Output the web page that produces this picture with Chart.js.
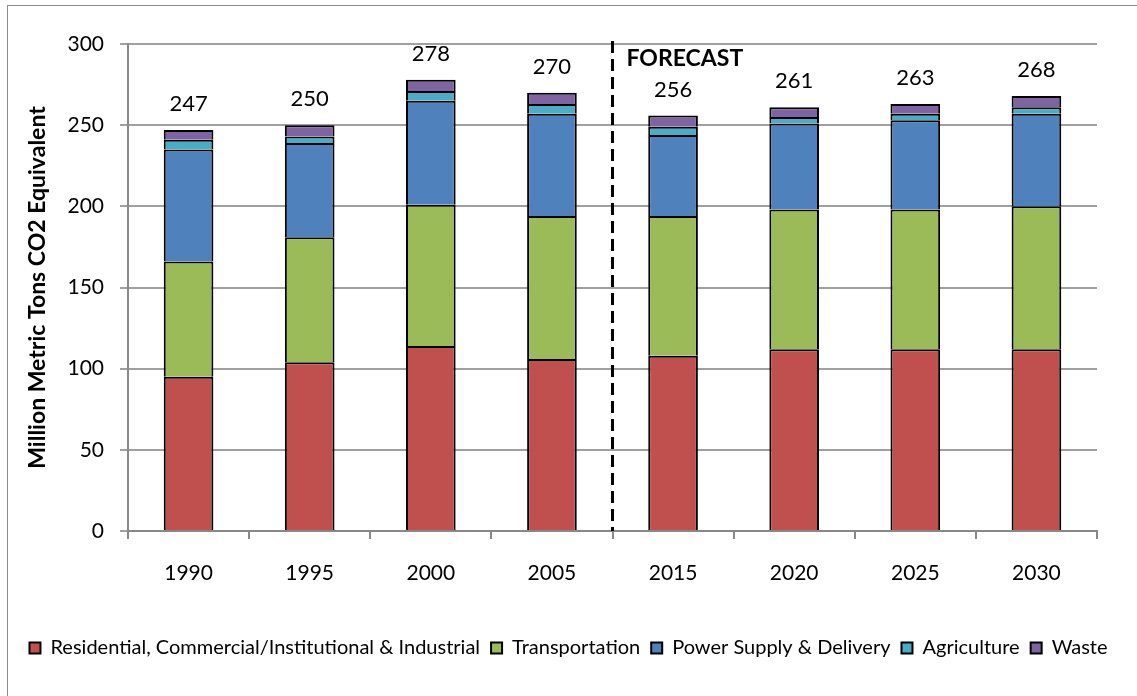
<!DOCTYPE html>
<html>
<head>
<meta charset="utf-8">
<script src="https://cdn.jsdelivr.net/npm/chart.js@4/dist/chart.umd.min.js"></script>
<style>
  html, body { margin: 0; padding: 0; background: #fff; }
  #wrap { width: 1137px; height: 696px; position: relative; }
</style>
</head>
<body>
<div id="wrap"><canvas id="c" width="1137" height="696"></canvas></div>
<script>
const categories = ['1990', '1995', '2000', '2005', '2015', '2020', '2025', '2030'];
const residential = [95, 104, 114, 106, 108, 112, 112, 112];
const transportation = [71, 77, 87, 88, 86, 86, 86, 88];
const powerSupply = [69, 58, 64, 63, 50, 53, 55, 57];
const agriculture = [6, 4, 6, 6, 5, 4, 4, 4];
const waste = [6, 7, 7, 7, 7, 6, 6, 7];
const totals = [247, 250, 278, 270, 256, 261, 263, 268];
const seriesNames = ['Residential, Commercial/Institutional & Industrial', 'Transportation', 'Power Supply & Delivery', 'Agriculture', 'Waste'];
const forecastStartIndex = 4;
const yTicks = [0, 50, 100, 150, 200, 250, 300];

const FONT = 'Lato, "Open Sans", sans-serif';

const decor = {
  id: 'decor',
  beforeDraw(chart) {
    const ctx = chart.ctx;
    ctx.save();
    ctx.fillStyle = '#fff';
    ctx.fillRect(0, 0, chart.width, chart.height);
    ctx.strokeStyle = '#8c8c8c';
    ctx.lineWidth = 1;
    ctx.strokeRect(7.5, 5.5, chart.width + 10, chart.height + 10);
    ctx.restore();
  },
  afterDatasetsDraw(chart) {
    const ctx = chart.ctx;
    const x = chart.scales.x, y = chart.scales.y;
    const area = chart.chartArea;
    ctx.save();
    ctx.fillStyle = '#000';
    ctx.font = '22px ' + FONT;
    ctx.textAlign = 'center';
    ctx.textBaseline = 'middle';
    totals.forEach((t, i) => {
      ctx.fillText(String(t), x.getPixelForValue(i), y.getPixelForValue(t) - 26);
    });
    const dx = Math.round((x.getPixelForValue(forecastStartIndex - 1) + x.getPixelForValue(forecastStartIndex)) / 2) - 0.5;
    ctx.strokeStyle = '#000';
    ctx.lineWidth = 3;
    ctx.setLineDash([12, 6]);
    ctx.beginPath();
    ctx.moveTo(dx, area.top - 3);
    ctx.lineTo(dx, area.bottom);
    ctx.stroke();
    ctx.setLineDash([]);
    ctx.font = 'bold 23px ' + FONT;
    ctx.textAlign = 'left';
    ctx.fillText('FORECAST', dx + 14, area.top + 15);
    ctx.restore();
  }
};

const colors = ['#C0504D', '#9BBB59', '#4F81BD', '#4BACC6', '#8064A2'];
const seriesData = [residential, transportation, powerSupply, agriculture, waste];

new Chart(document.getElementById('c'), {
  type: 'bar',
  data: {
    labels: categories,
    datasets: seriesData.map((d, i) => ({
      label: seriesNames[i],
      data: d,
      backgroundColor: colors[i],
      borderColor: '#000',
      borderWidth: 2,
      borderSkipped: 'start',
      categoryPercentage: 1,
      barPercentage: 0.41
    }))
  },
  options: {
    responsive: false,
    animation: false,
    devicePixelRatio: 1,
    layout: { padding: { left: 0, right: 0, top: 44, bottom: 28 } },
    plugins: {
      tooltip: { enabled: false },
      legend: {
        position: 'bottom',
        labels: {
          font: { family: FONT, size: 20 },
          color: '#000',
          boxWidth: 11,
          boxHeight: 11,
          padding: 11
        }
      }
    },
    scales: {
      x: {
        stacked: true,
        offset: true,
        grid: { offset: true, drawOnChartArea: false, drawTicks: true, tickLength: 8, color: '#888', lineWidth: 2 },
        border: { color: '#888', width: 2 },
        ticks: { font: { family: FONT, size: 21 }, color: '#000', padding: 22 },
        afterFit(s) { s.height = 96; }
      },
      y: {
        stacked: true,
        min: 0,
        max: 300,
        afterBuildTicks(s) { s.ticks = yTicks.map(v => ({ value: v })); },
        grid: { color: '#a0a0a0', lineWidth: 2, tickLength: 8 },
        border: { color: '#888', width: 2 },
        ticks: { font: { family: FONT, size: 21 }, color: '#000', padding: 16 },
        title: { display: true, text: 'Million Metric Tons CO2 Equivalent', font: { family: FONT, size: 23, weight: 'bold' }, color: '#000', padding: { top: 24, bottom: 0 } },
        afterFit(s) { s.width = 128; }
      },
      ySpacer: {
        type: 'linear',
        position: 'right',
        min: 0,
        max: 300,
        grid: { display: false, drawOnChartArea: false },
        border: { display: false },
        ticks: { display: false },
        afterFit(s) { s.width = 40; }
      }
    }
  },
  plugins: [decor]
});
</script>
</body>
</html>
